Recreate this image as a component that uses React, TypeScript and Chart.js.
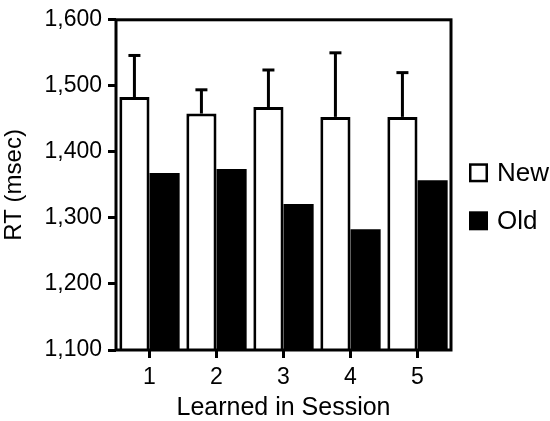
import React, { useEffect, useRef } from "react";
import { Chart, registerables } from "chart.js";

Chart.register(...registerables);

const categories = ["1", "2", "3", "4", "5"];
const seriesLabels = ["New", "Old"];
const newMeans = [1483, 1458, 1468, 1453, 1453];
const newErrors = [63, 36, 56, 97, 67];
const oldMeans = [1368, 1374, 1321, 1283, 1357];
const yMin = 1100;
const yMax = 1600;
const yStep = 100;
const xTitle = "Learned in Session";
const yTitle = "RT (msec)";

const FONT = '"Liberation Sans", Arial, Helvetica, sans-serif';

const errorBarPlugin = {
  id: "errorBars",
  afterDatasetsDraw(chart: any) {
    const ctx = chart.ctx;
    const meta = chart.getDatasetMeta(0);
    const yScale = chart.scales.y;
    ctx.save();
    ctx.strokeStyle = "#000";
    ctx.lineWidth = 3;
    ctx.lineCap = "butt";
    meta.data.forEach((el: any, i: number) => {
      const top = yScale.getPixelForValue(newMeans[i] + newErrors[i]);
      const x = el.x;
      ctx.beginPath();
      ctx.moveTo(x, el.y);
      ctx.lineTo(x, top);
      ctx.stroke();
      ctx.beginPath();
      ctx.moveTo(x - 6, top);
      ctx.lineTo(x + 6, top);
      ctx.stroke();
    });
    ctx.restore();
  },
};

const framePlugin = {
  id: "frame",
  afterDatasetsDraw(chart: any) {
    const { left, right, top, bottom } = chart.chartArea;
    const ctx = chart.ctx;
    ctx.save();
    ctx.strokeStyle = "#000";
    ctx.lineWidth = 3;
    ctx.strokeRect(left, top, right - left, bottom - top);
    ctx.restore();
  },
};

const legendPlugin = {
  id: "sideLegend",
  afterDraw(chart: any) {
    const ctx = chart.ctx;
    const { right, top } = chart.chartArea;
    const boxX = right + 18;
    const size = 19;
    ctx.save();
    ctx.font = `26px ${FONT}`;
    ctx.textBaseline = "middle";
    ctx.textAlign = "left";
    ctx.fillStyle = "#000";
    chart.data.datasets.forEach((ds: any, i: number) => {
      const cy = top + 153 + i * 48;
      if (i === 0) {
        ctx.fillStyle = "#fff";
        ctx.fillRect(boxX, cy - size / 2, size, size);
        ctx.strokeStyle = "#000";
        ctx.lineWidth = 2.5;
        ctx.strokeRect(boxX + 1.25, cy - size / 2 + 1.25, size - 2.5, size - 2.5);
      } else {
        ctx.fillStyle = "#000";
        ctx.fillRect(boxX, cy - size / 2, size, size);
      }
      ctx.fillStyle = "#000";
      ctx.fillText(ds.label, boxX + size + 9, cy + 1);
    });
    ctx.restore();
  },
};

export default function App() {
  const ref = useRef<HTMLCanvasElement>(null);

  useEffect(() => {
    document.body.style.margin = "0";
    const canvas = ref.current;
    if (!canvas) return;
    const chart = new Chart(canvas, {
      type: "bar",
      data: {
        labels: categories,
        datasets: [
          {
            label: seriesLabels[0],
            data: newMeans,
            backgroundColor: "#ffffff",
            borderColor: "#000000",
            borderWidth: 3,
            borderSkipped: "start",
          },
          {
            label: seriesLabels[1],
            data: oldMeans,
            backgroundColor: "#000000",
            borderColor: "#000000",
            borderWidth: 0,
          },
        ],
      },
      options: {
        responsive: false,
        animation: false,
        devicePixelRatio: 1,
        layout: { padding: { top: 15, right: 99, left: 0, bottom: 0 } },
        datasets: {
          bar: { categoryPercentage: 0.9, barPercentage: 1.0 },
        },
        plugins: {
          legend: { display: false },
          tooltip: { enabled: false },
          title: { display: false },
        },
        scales: {
          x: {
            offset: true,
            grid: {
              offset: false,
              drawOnChartArea: false,
              drawTicks: true,
              tickLength: 8,
              tickWidth: 3,
              tickColor: "#000",
              color: "#000",
            },
            border: { display: false },
            ticks: {
              color: "#000",
              font: { family: FONT, size: 23 },
              padding: 6,
              maxRotation: 0,
            },
            title: {
              display: true,
              text: xTitle,
              color: "#000",
              font: { family: FONT, size: 25 },
              padding: { top: -2, bottom: -2 },
            },
            afterFit(scale: any) {
              scale.height = 71;
            },
          },
          y: {
            min: yMin,
            max: yMax,
            grid: {
              drawOnChartArea: false,
              drawTicks: true,
              tickLength: 8,
              tickWidth: 3,
              tickColor: "#000",
              color: "#000",
            },
            border: { display: false },
            ticks: {
              stepSize: yStep,
              color: "#000",
              font: { family: FONT, size: 23 },
              padding: 6,
              callback: (v: any) => Number(v).toLocaleString("en-US"),
            },
            title: {
              display: true,
              text: yTitle,
              color: "#000",
              font: { family: FONT, size: 24 },
              padding: 0,
            },
            afterFit(scale: any) {
              scale.width = 116;
            },
          },
        },
      },
      plugins: [errorBarPlugin, framePlugin, legendPlugin],
    });
    return () => chart.destroy();
  }, []);

  return (
    <div style={{ width: 550, height: 421, background: "#fff" }}>
      <canvas ref={ref} width={550} height={421} style={{ display: "block" }} />
    </div>
  );
}
